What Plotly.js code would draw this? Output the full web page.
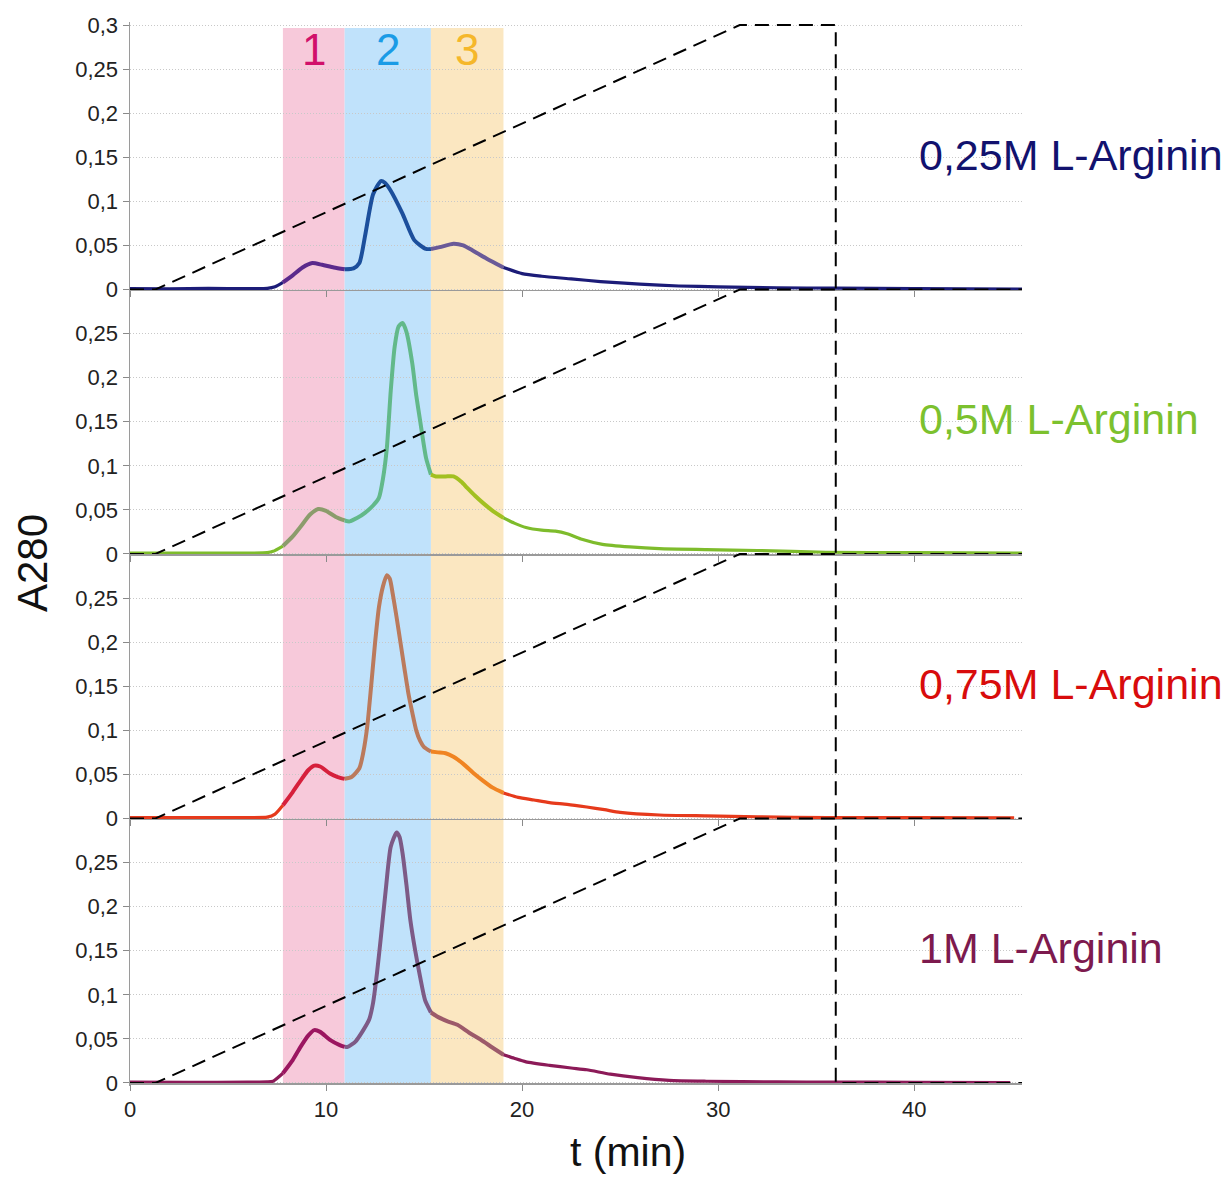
<!DOCTYPE html>
<html>
<head>
<meta charset="utf-8">
<script src="https://cdn.plot.ly/plotly-3.0.1.min.js"></script>
<style>html,body{margin:0;padding:0;background:#fff;}#chart{width:1231px;height:1177px;}</style>
</head>
<body>
<div id="chart"></div>
<script>
// ---------- data ----------
const seriesNames = ['0,25M L-Arginin', '0,5M L-Arginin', '0,75M L-Arginin', '1M L-Arginin'];

const t1 = [0, 2, 4, 6, 7.0, 7.4, 7.8, 8.3, 8.8, 9.3, 9.8, 10.4, 10.95, 11.4, 11.7, 12.0, 12.4, 12.8, 13.0, 13.3, 13.9, 14.5, 15.1, 15.35, 15.8, 16.5, 17.0, 17.5, 18.2, 19.05, 20, 21, 22.5, 24, 26, 28, 30, 33, 36, 40, 45.6];
const a1 = [0.001, 0.0008, 0.0012, 0.001, 0.0012, 0.003, 0.008, 0.016, 0.025, 0.030, 0.028, 0.025, 0.023, 0.024, 0.030, 0.062, 0.108, 0.123, 0.121, 0.112, 0.086, 0.056, 0.046, 0.046, 0.048, 0.052, 0.050, 0.044, 0.035, 0.025, 0.018, 0.015, 0.012, 0.009, 0.006, 0.004, 0.003, 0.002, 0.0015, 0.001, 0.0005];

const t2 = [0, 3, 6, 7.0, 7.3, 7.8, 8.3, 8.7, 9.2, 9.6, 10.0, 10.5, 10.95, 11.2, 11.6, 12.0, 12.4, 12.7, 12.9, 13.1, 13.3, 13.5, 13.7, 13.9, 14.1, 14.4, 14.6, 14.8, 15.1, 15.35, 15.6, 16.1, 16.5, 16.9, 17.2, 17.6, 18.0, 18.5, 19.05, 19.6, 20.2, 21.0, 21.7, 22.3, 23.0, 24.1, 25.5, 27, 29.4, 32, 35.5, 40, 45.5];
const a2 = [0.001, 0.001, 0.001, 0.0015, 0.003, 0.009, 0.020, 0.031, 0.045, 0.051, 0.049, 0.042, 0.038, 0.037, 0.041, 0.047, 0.055, 0.064, 0.085, 0.120, 0.185, 0.235, 0.258, 0.262, 0.252, 0.216, 0.180, 0.151, 0.109, 0.090, 0.088, 0.088, 0.088, 0.082, 0.075, 0.066, 0.058, 0.049, 0.041, 0.035, 0.030, 0.027, 0.026, 0.023, 0.017, 0.011, 0.008, 0.006, 0.005, 0.004, 0.002, 0.0015, 0.001];

const t3 = [0, 3, 6, 7.0, 7.4, 7.8, 8.3, 8.7, 9.1, 9.4, 9.7, 10.2, 10.6, 10.95, 11.3, 11.7, 11.9, 12.1, 12.3, 12.5, 12.7, 12.9, 13.1, 13.25, 13.4, 13.6, 13.8, 14.0, 14.2, 14.4, 14.6, 14.8, 15.0, 15.35, 15.7, 16.1, 16.5, 17.0, 17.5, 18.0, 18.5, 19.05, 19.8, 20.6, 21.4, 22.3, 23.3, 24.2, 25.0, 27, 29.4, 32, 35.6, 40, 45.1];
const a3 = [0.001, 0.001, 0.001, 0.0015, 0.005, 0.015, 0.030, 0.043, 0.055, 0.060, 0.059, 0.051, 0.047, 0.045, 0.047, 0.057, 0.075, 0.104, 0.150, 0.199, 0.240, 0.263, 0.276, 0.272, 0.255, 0.228, 0.199, 0.170, 0.142, 0.120, 0.100, 0.088, 0.081, 0.076, 0.075, 0.074, 0.070, 0.062, 0.052, 0.043, 0.035, 0.029, 0.024, 0.021, 0.018, 0.016, 0.013, 0.010, 0.007, 0.004, 0.003, 0.002, 0.001, 0.001, 0.0008];

const t4 = [0, 3, 6, 7.0, 7.3, 7.8, 8.3, 8.7, 9.1, 9.4, 9.7, 10.2, 10.7, 10.95, 11.1, 11.5, 11.9, 12.2, 12.4, 12.6, 12.8, 13.05, 13.3, 13.6, 13.75, 13.9, 14.1, 14.3, 14.55, 14.8, 15.05, 15.35, 15.7, 16.2, 16.7, 17.3, 17.9, 18.5, 19.05, 19.6, 20.2, 21.4, 22.5, 23.3, 24.5, 25.9, 27.5, 29.4, 33, 36, 40, 44.9];
const a4 = [0.001, 0.0008, 0.001, 0.0012, 0.002, 0.011, 0.026, 0.041, 0.054, 0.060, 0.058, 0.049, 0.043, 0.041, 0.041, 0.047, 0.060, 0.072, 0.091, 0.125, 0.166, 0.220, 0.268, 0.284, 0.279, 0.261, 0.225, 0.185, 0.150, 0.120, 0.094, 0.080, 0.075, 0.070, 0.066, 0.057, 0.049, 0.040, 0.032, 0.028, 0.024, 0.020, 0.017, 0.015, 0.010, 0.006, 0.003, 0.002, 0.0012, 0.001, 0.0008, 0.0005];

// gradient (dashed) profile, same in each panel
const gradT = [0, 1.3, 31.1, 36, 36, 45.5];
const gradB = [0, 0, 0.3, 0.3, 0, 0];

// fraction windows (min)
const fractionLabels = ['1', '2', '3'];
const fractionBounds = [7.8, 10.95, 15.35, 19.05];

const yTickVals = [0, 0.05, 0.1, 0.15, 0.2, 0.25, 0.3];
const yTickText = ['0', '0,05', '0,1', '0,15', '0,2', '0,25', '0,3'];
const xTickVals = [0, 10, 20, 30, 40];

// ---------- styles ----------
const T = [t1, t2, t3, t4], A = [a1, a2, a3, a4];
const baseCol = ['#1c1c78', '#7ebc2c', '#e63a1c', '#8c1a58'];
const segCol = [
  ['#5b2a8c', '#1c4f9c', '#6a5a98'],
  ['#8c9c6c', '#62b98a', '#a2c020'],
  ['#d6203c', '#bb7a5c', '#f08422'],
  ['#9b1660', '#7d5a86', '#9c5a6a']
];
const labelCol = ['#12126e', '#7cc12e', '#d80c0c', '#7d1a4e'];
const bandFill = ['#f7c9da', '#c0e2fb', '#fbe7c1'];
const bandText = ['#d1106a', '#1a9be6', '#f5b72a'];
const FONT = 'Liberation Sans, Arial, sans-serif';

const W = 1231, H = 1177, mt = 20, mb = 90, ml = 130, mr = 209;
const areaTop = mt, areaBot = H - mb, areaH = areaBot - areaTop;
const pY = p => (areaBot - p) / areaH;
const top0 = 25, panelPx = 264.5, eps = 0.003, epsPx = eps * panelPx / 0.3;

const traces = [];
const layout = {
  width: W, height: H,
  margin: {t: mt, b: mb, l: ml, r: mr},
  paper_bgcolor: '#ffffff', plot_bgcolor: 'rgba(0,0,0,0)',
  showlegend: false,
  font: {family: FONT, color: '#222'},
  shapes: [], annotations: []
};

for (let k = 0; k < 4; k++) {
  const sfx = k === 0 ? '' : String(k + 1);
  const xa = 'x' + sfx, ya = 'y' + sfx;
  const zeroPx = top0 + panelPx * (k + 1);
  const topPx = top0 + panelPx * k;
  const tv = k === 0 ? yTickVals : yTickVals.slice(0, 6);
  const tt = k === 0 ? yTickText : yTickText.slice(0, 6);
  layout['yaxis' + sfx] = {
    domain: [pY(zeroPx + epsPx), pY(topPx - epsPx)],
    range: [-eps, 0.3 + eps],
    anchor: xa,
    tickmode: 'array', tickvals: tv, ticktext: tt,
    ticks: 'outside', ticklen: 6, tickcolor: '#8a8a8a', tickwidth: 1,
    showline: true, linecolor: '#9a9a9a', linewidth: 1.5,
    showgrid: true, gridcolor: '#c8c8c8', griddash: '1px,2px', gridwidth: 1,
    zeroline: false,
    tickfont: {family: FONT, size: 22, color: '#222'},
    fixedrange: true
  };
  layout['xaxis' + sfx] = {
    domain: [0, 1], range: [0, 45.5],
    anchor: 'free', position: pY(zeroPx),
    tickmode: 'array', tickvals: xTickVals,
    ticks: 'outside', ticklen: 6, tickcolor: '#8a8a8a', tickwidth: 1,
    showline: true, linecolor: '#9a9a9a', linewidth: 1.5,
    showgrid: false, zeroline: false,
    showticklabels: k === 3,
    tickfont: {family: FONT, size: 22, color: '#222'},
    fixedrange: true
  };
  if (k > 0) layout['xaxis' + sfx].matches = 'x';

  // curve split into coloured segments by fraction window
  const edges = [-Infinity].concat(fractionBounds, [Infinity]);
  const cols = [baseCol[k]].concat(segCol[k], [baseCol[k]]);
  for (let s = 0; s < edges.length - 1; s++) {
    const xs = [], ys = [];
    T[k].forEach((tv_, i) => {
      if (tv_ >= edges[s] && tv_ <= edges[s + 1]) { xs.push(tv_); ys.push(A[k][i]); }
    });
    const inBand = s >= 1 && s <= 3;
    traces.push({
      type: 'scatter', mode: 'lines', x: xs, y: ys, xaxis: xa, yaxis: ya,
      line: {color: cols[s], width: inBand ? 4 : 3.2, shape: 'spline', smoothing: 0.6},
      hoverinfo: 'skip'
    });
  }
  // dashed gradient
  traces.push({
    type: 'scatter', mode: 'lines', x: gradT, y: gradB, xaxis: xa, yaxis: ya,
    line: {color: '#000', width: 2, dash: '14px,8px'}, hoverinfo: 'skip'
  });

  layout.annotations.push({
    xref: xa, yref: ya, x: 40.15, y: 0.153, xanchor: 'left', yanchor: 'middle',
    text: seriesNames[k], showarrow: false,
    font: {family: FONT, size: 43, color: labelCol[k]}
  });
}

// fraction bands
for (let b = 0; b < 3; b++) {
  layout.shapes.push({
    type: 'rect', layer: 'below', xref: 'x', yref: 'paper',
    x0: fractionBounds[b], x1: fractionBounds[b + 1],
    y0: pY(1083), y1: pY(28),
    fillcolor: bandFill[b], line: {width: 0}
  });
  layout.annotations.push({
    xref: 'x', yref: 'paper',
    x: (fractionBounds[b] + fractionBounds[b + 1]) / 2, y: pY(49),
    xanchor: 'center', yanchor: 'middle',
    text: fractionLabels[b], showarrow: false,
    font: {family: FONT, size: 44, color: bandText[b]}
  });
}

// axis titles
layout.annotations.push({
  xref: 'paper', yref: 'paper', x: (33 - ml) / (W - ml - mr), y: pY(563),
  xanchor: 'center', yanchor: 'middle', textangle: -90,
  text: 'A280', showarrow: false, font: {family: FONT, size: 42, color: '#111'}
});
layout.annotations.push({
  xref: 'paper', yref: 'paper', x: (628 - ml) / (W - ml - mr), y: pY(1152),
  xanchor: 'center', yanchor: 'middle',
  text: 't (min)', showarrow: false, font: {family: FONT, size: 41, color: '#111'}
});

Plotly.newPlot('chart', traces, layout, {displayModeBar: false, staticPlot: true});
</script>
</body>
</html>
